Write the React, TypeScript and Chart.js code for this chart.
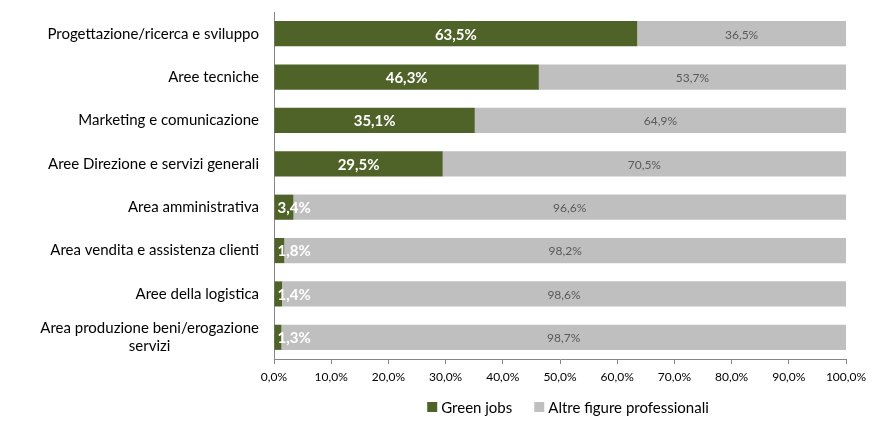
import { useEffect, useRef } from 'react';
import { Chart, registerables } from 'chart.js';

Chart.register(...registerables);

const categories: (string | string[])[] = [
  'Progettazione/ricerca e sviluppo',
  'Aree tecniche',
  'Marketing e comunicazione',
  'Aree Direzione e servizi generali',
  'Area amministrativa',
  'Area vendita e assistenza clienti',
  'Aree della logistica',
  ['Area produzione beni/erogazione', 'servizi'],
];
const greenJobs = [63.5, 46.3, 35.1, 29.5, 3.4, 1.8, 1.4, 1.3];
const altreFigure = [36.5, 53.7, 64.9, 70.5, 96.6, 98.2, 98.6, 98.7];
const seriesNames = ['Green jobs', 'Altre figure professionali'];
const seriesColors = ['#4F6228', '#BFBFBF'];
const xMin = 0;
const xMax = 100;
const xStep = 10;

const FONT = 'Lato, "Open Sans", sans-serif';
const fmt = (v: number) => Number(v).toFixed(1).replace('.', ',') + '%';

export default function App() {
  const ref = useRef<HTMLCanvasElement>(null);

  useEffect(() => {
    if (!ref.current) return;

    const customPlugin = {
      id: 'customDraw',
      afterDatasetsDraw(chart: any) {
        const ctx = chart.ctx as CanvasRenderingContext2D;
        ctx.save();
        ctx.textBaseline = 'middle';
        // green labels
        const g = chart.getDatasetMeta(0);
        g.data.forEach((el: any, i: number) => {
          const { x, y, base } = el.getProps(['x', 'y', 'base'], true);
          const txt = fmt(greenJobs[i]);
          ctx.font = `bold 15px ${FONT}`;
          ctx.fillStyle = '#FFFFFF';
          const w = ctx.measureText(txt).width;
          if (Math.abs(x - base) > w + 8) {
            ctx.textAlign = 'center';
            ctx.fillText(txt, (x + base) / 2, y + 1);
          } else {
            ctx.textAlign = 'left';
            ctx.fillText(txt, Math.min(x, base) + 3, y + 1);
          }
        });
        // gray labels
        const a = chart.getDatasetMeta(1);
        a.data.forEach((el: any, i: number) => {
          const { x, y, base } = el.getProps(['x', 'y', 'base'], true);
          const txt = fmt(altreFigure[i]);
          ctx.font = `12px ${FONT}`;
          ctx.fillStyle = '#595959';
          ctx.textAlign = 'center';
          ctx.fillText(txt, (x + base) / 2, y + 1);
        });
        ctx.restore();
      },
      afterDraw(chart: any) {
        const ctx = chart.ctx as CanvasRenderingContext2D;
        const area = chart.chartArea;
        const yScale = chart.scales.y;
        ctx.save();
        // category labels
        ctx.font = `15px ${FONT}`;
        ctx.fillStyle = '#000000';
        ctx.textBaseline = 'middle';
        ctx.textAlign = 'center';
        const lineH = 18;
        const right = area.left - 15;
        categories.forEach((lab, i) => {
          const lines = Array.isArray(lab) ? lab : [lab];
          const blockW = Math.max(...lines.map((l) => ctx.measureText(l).width));
          const cx = right - blockW / 2;
          const cy = yScale.getPixelForValue(i);
          lines.forEach((l, k) => {
            const ly = cy + (k - (lines.length - 1) / 2) * lineH;
            ctx.fillText(l, cx, ly);
          });
        });
        // legend
        ctx.font = `15px ${FONT}`;
        const box = 10;
        const gapBT = 4;
        const gapItems = 22;
        const widths = seriesNames.map((n) => box + gapBT + ctx.measureText(n).width);
        const total = widths.reduce((s, w) => s + w, 0) + gapItems * (widths.length - 1);
        let lx = (area.left + area.right) / 2 + 8 - total / 2;
        const ly = 407;
        ctx.textAlign = 'left';
        seriesNames.forEach((n, i) => {
          ctx.fillStyle = seriesColors[i];
          ctx.fillRect(lx, ly - box / 2, box, box);
          ctx.fillStyle = '#000000';
          ctx.fillText(n, lx + box + gapBT, ly + 1);
          lx += widths[i] + gapItems;
        });
        ctx.restore();
      },
    };

    const chart = new Chart(ref.current, {
      type: 'bar',
      data: {
        labels: categories as any,
        datasets: [
          {
            label: seriesNames[0],
            data: greenJobs,
            backgroundColor: seriesColors[0],
            borderWidth: 0,
            barPercentage: 0.58,
            categoryPercentage: 1,
          },
          {
            label: seriesNames[1],
            data: altreFigure,
            backgroundColor: seriesColors[1],
            borderWidth: 0,
            barPercentage: 0.58,
            categoryPercentage: 1,
          },
        ],
      },
      options: {
        indexAxis: 'y',
        animation: false,
        responsive: false,
        maintainAspectRatio: false,
        layout: { padding: { left: 274, right: 31, top: 12, bottom: 0 } },
        plugins: {
          legend: { display: false },
          tooltip: { enabled: false },
        },
        scales: {
          x: {
            stacked: true,
            min: xMin,
            max: xMax,
            ticks: {
              stepSize: xStep,
              callback: (v: any) => fmt(Number(v)),
              font: { family: FONT, size: 12 },
              color: '#000000',
              padding: 6,
              maxRotation: 0,
              autoSkip: false,
            },
            grid: {
              drawOnChartArea: false,
              drawTicks: true,
              tickLength: 5,
              color: '#868686',
            },
            border: { display: true, color: '#868686' },
            afterFit: (s: any) => {
              s.height = 69;
            },
          },
          y: {
            stacked: true,
            ticks: { display: false },
            grid: { display: false },
            border: { display: true, color: '#868686' },
            afterFit: (s: any) => {
              s.width = 0;
            },
          },
        },
      },
      plugins: [customPlugin],
    });

    return () => chart.destroy();
  }, []);

  return (
    <div style={{ position: 'fixed', left: 0, top: 0, width: 877, height: 428, background: '#fff' }}>
      <canvas ref={ref} width={877} height={428} />
    </div>
  );
}
